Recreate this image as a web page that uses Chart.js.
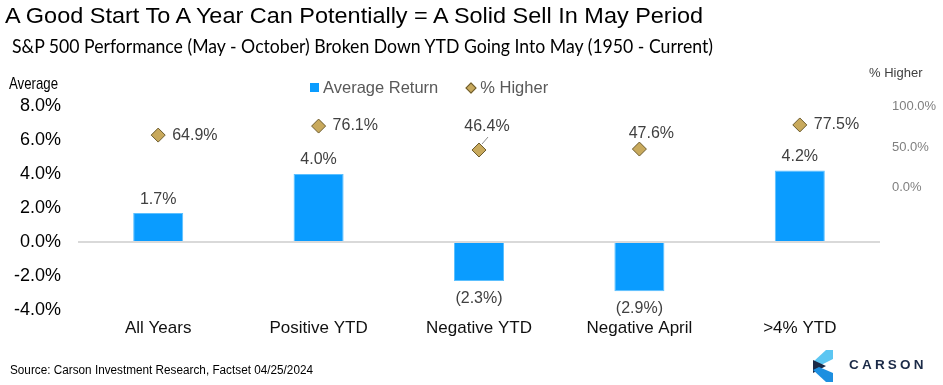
<!DOCTYPE html>
<html>
<head>
<meta charset="utf-8">
<script src="https://cdn.jsdelivr.net/npm/chart.js@4.4.1/dist/chart.umd.min.js"></script>
<style>
  html, body { margin: 0; padding: 0; background: #fff; }
  #wrap { position: relative; width: 943px; height: 385px; overflow: hidden; font-family: 'Liberation Sans', Arial, sans-serif; }
  #chart { position: absolute; left: 0; top: 0; }
  .txt { position: absolute; white-space: nowrap; transform-origin: 0 50%; line-height: 1; }
  #title { left: 5px; top: 5px; font-size: 22px; color: #000; }
  #subtitle { left: 12px; top: 37px; font-family: Lato, 'Noto Sans', sans-serif; font-size: 18.5px; color: #000; }
  #avgLbl { left: 9px; top: 75px; font-size: 17px; color: #000; }
  #rightLbl { left: 869px; top: 66px; font-size: 13px; color: #404040; }
  #legend { left: 310px; top: 78px; font-size: 16.5px; color: #595959; }
  #legend span { display: inline-block; vertical-align: middle; }
  .sw { width: 9px; height: 9px; background: #0a9cff; margin-right: 4px; }
  .dm { width: 6px; height: 6px; background: #c8a95c; border: 1px solid #6b5a2c; transform: rotate(45deg); margin: 0 5px 0 29px; }
  #source { left: 10px; top: 364px; font-size: 12.5px; color: #000; }
  #carson { left: 849px; top: 358px; font-size: 13.5px; font-weight: bold; letter-spacing: 3.2px; color: #1b2a47; }
  #logo { position: absolute; left: 0; top: 0; }
</style>
</head>
<body>
<div id="wrap">
  <canvas id="chart" width="943" height="385"></canvas>
  <div class="txt fit" id="title" data-w="698">A Good Start To A Year Can Potentially = A Solid Sell In May Period</div>
  <div class="txt fit" id="subtitle" data-w="701">S&amp;P 500 Performance (May - October) Broken Down YTD Going Into May (1950 - Current)</div>
  <div class="txt fit" id="avgLbl" data-w="49">Average</div>
  <div class="txt" id="rightLbl">% Higher</div>
  <div class="txt" id="legend"><span class="sw"></span><span>Average Return</span><span class="dm"></span><span>% Higher</span></div>
  <div class="txt fit" id="source" data-w="303">Source: Carson Investment Research, Factset 04/25/2024</div>
  <svg id="logo" width="943" height="385">
    <polygon points="826,350 833,350 833,359 819,366 813,362" fill="#5cc6f2"/>
    <polygon points="813,360 826,366 813,373" fill="#1b2a47"/>
    <polygon points="813,370 819,367 833,373 833,382 826,382" fill="#1d8fe0"/>
  </svg>
  <div class="txt" id="carson">CARSON</div>
</div>
<script>
// Categories and values
const categories = ['All Years', 'Positive YTD', 'Negative YTD', 'Negative April', '>4% YTD'];
const avgReturn = [1.7, 4.0, -2.3, -2.9, 4.2];
const pctHigher = [64.9, 76.1, 46.4, 47.6, 77.5];
const leftTicks = [-4, -2, 0, 2, 4, 6, 8];
const rightTicks = [0, 50, 100];

const colors = {
    bar: '#0a9cff',
    diamond: '#c8a95c',
    diamondBorder: '#6b5a2c',
    label: '#404040',
    zero: '#d9d9d9'
};

// label placement for the % Higher points (dx, dy, align, leader line)
const diamondLabelPos = [
    { dx: 14, dy: 0, align: 'left' },
    { dx: 14, dy: 0, align: 'left' },
    { dx: 8, dy: -23, align: 'center', leader: true },
    { dx: 12, dy: -15, align: 'center' },
    { dx: 14, dy: 0, align: 'left' }
];

function fmtPct(v) {
    return v < 0 ? '(' + Math.abs(v).toFixed(1) + '%)' : v.toFixed(1) + '%';
}

// Data labels drawn after datasets
const dataLabelPlugin = {
    id: 'dataLabels',
    afterDatasetsDraw(chart) {
        const { ctx } = chart;
        ctx.save();
        ctx.font = '16px "Liberation Sans", Arial, sans-serif';
        ctx.fillStyle = colors.label;
        ctx.textBaseline = 'middle';

        const barMeta = chart.getDatasetMeta(0);
        barMeta.data.forEach((bar, i) => {
            const v = avgReturn[i];
            ctx.textAlign = 'center';
            const y = v >= 0 ? bar.y - 14 : bar.y + 17;
            ctx.fillText(fmtPct(v), bar.x, y);
        });

        const ptMeta = chart.getDatasetMeta(1);
        ptMeta.data.forEach((pt, i) => {
            const p = diamondLabelPos[i];
            ctx.textAlign = p.align;
            ctx.fillText(pctHigher[i].toFixed(1) + '%', pt.x + p.dx, pt.y + p.dy);
            if (p.leader) {
                ctx.strokeStyle = '#8c8c8c';
                ctx.lineWidth = 1;
                ctx.beginPath();
                ctx.moveTo(pt.x + 3, pt.y - 6);
                ctx.lineTo(pt.x + 9, pt.y - 13);
                ctx.stroke();
            }
        });
        ctx.restore();
    }
};

new Chart(document.getElementById('chart'), {
    data: {
        labels: categories,
        datasets: [{
            type: 'bar',
            label: 'Average Return',
            data: avgReturn,
            yAxisID: 'y',
            backgroundColor: colors.bar,
            borderColor: '#5cc0ff',
            borderWidth: 1,
            barPercentage: 0.312,
            categoryPercentage: 1,
            order: 2
        }, {
            type: 'line',
            label: '% Higher',
            data: pctHigher,
            yAxisID: 'y1',
            showLine: false,
            pointStyle: 'rectRot',
            pointRadius: 7,
            pointBackgroundColor: colors.diamond,
            pointBorderColor: colors.diamondBorder,
            pointBorderWidth: 1,
            order: 1
        }]
    },
    options: {
        responsive: false,
        animation: false,
        layout: { padding: { top: 106, left: 0, right: 0, bottom: 0 } },
        plugins: {
            legend: { display: false },
            tooltip: { enabled: false }
        },
        scales: {
            x: {
                grid: { display: false, drawTicks: false },
                border: { display: false },
                ticks: {
                    padding: 8,
                    color: '#111',
                    font: { family: '"Liberation Sans", Arial, sans-serif', size: 17 }
                },
                afterFit(scale) { scale.height = 75; }
            },
            y: {
                position: 'left',
                min: -4, max: 8,
                afterBuildTicks(axis) { axis.ticks = leftTicks.map(v => ({ value: v })); },
                grid: {
                    drawTicks: false,
                    lineWidth: 2,
                    color: c => c.tick && c.tick.value === 0 ? colors.zero : 'rgba(0,0,0,0)'
                },
                border: { display: false },
                ticks: {
                    padding: 17,
                    color: '#000',
                    font: { family: '"Liberation Sans", Arial, sans-serif', size: 18 },
                    callback: v => v.toFixed(1) + '%'
                },
                afterFit(scale) { scale.width = 78; }
            },
            y1: {
                position: 'right',
                min: -152, max: 101,
                afterBuildTicks(axis) { axis.ticks = rightTicks.map(v => ({ value: v })); },
                grid: { display: false, drawTicks: false },
                border: { display: false },
                ticks: {
                    padding: 12,
                    color: '#7f7f7f',
                    font: { family: '"Liberation Sans", Arial, sans-serif', size: 13 },
                    callback: v => v.toFixed(1) + '%'
                },
                afterFit(scale) { scale.width = 63; }
            }
        }
    },
    plugins: [dataLabelPlugin]
});

// squeeze header / footer text to the reference widths
document.querySelectorAll('.fit').forEach(el => {
    const w = el.getBoundingClientRect().width;
    el.style.transform = 'scaleX(' + (Number(el.dataset.w) / w) + ')';
});
</script>
</body>
</html>
